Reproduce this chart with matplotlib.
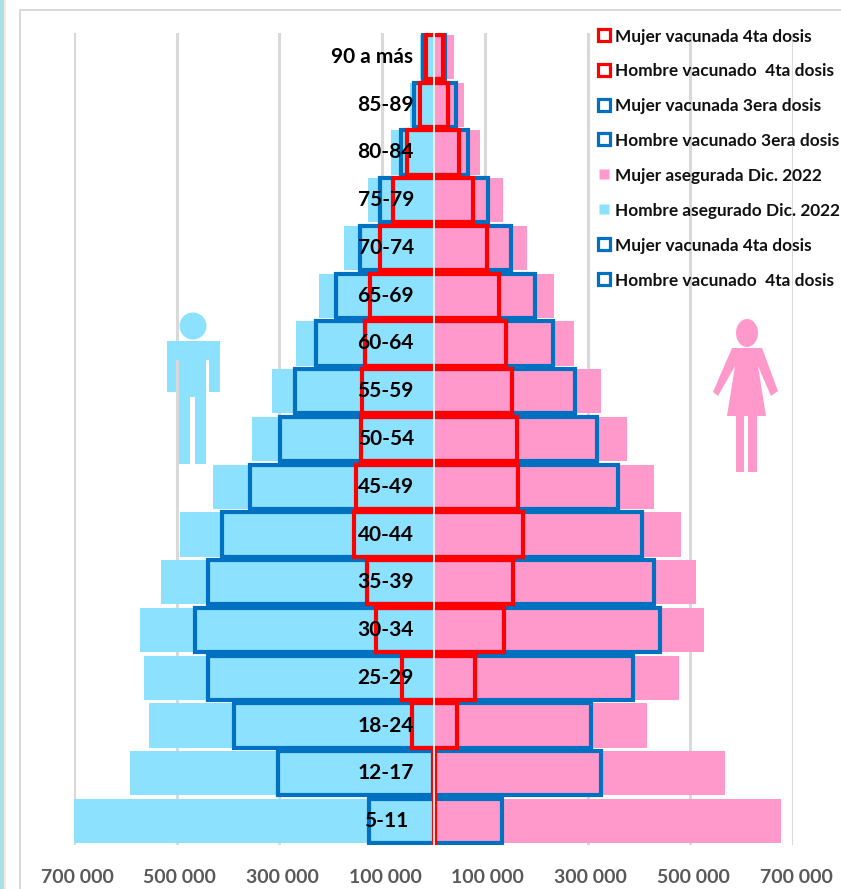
import matplotlib
matplotlib.use("Agg")
import matplotlib.pyplot as plt
from matplotlib.lines import Line2D
from matplotlib.patches import Ellipse, Polygon, Rectangle
from matplotlib.transforms import ScaledTranslation

plt.rcParams['font.family'] = ['Lato', 'DejaVu Sans']

W, H = 841, 889

ages = ['5-11', '12-17', '18-24', '25-29', '30-34', '35-39', '40-44', '45-49', '50-54',
        '55-59', '60-64', '65-69', '70-74', '75-79', '80-84', '85-89', '90 a más']

men_insured = [700000, 591000, 554000, 564000, 572000, 531000, 494000, 430000, 354000,
               315000, 268000, 222000, 175000, 128000, 82000, 45000, 27000]
women_insured = [677000, 568000, 416000, 478000, 527000, 511000, 482000, 430000, 377000,
                 327000, 274000, 235000, 183000, 136000, 91000, 60000, 39000]
men_dose3 = [126000, 303000, 389000, 440000, 465000, 440000, 412000, 358000, 298000,
             270000, 228000, 189000, 144000, 105000, 64000, 37000, 21000]
women_dose3 = [134000, 327000, 307000, 389000, 441000, 430000, 406000, 360000, 319000,
               276000, 233000, 198000, 150000, 107000, 68000, 43000, 23000]
men_dose4 = [0, 1000, 41000, 62000, 111000, 130000, 154000, 150000, 142000,
             140000, 134000, 123000, 105000, 78000, 51000, 27000, 14000]
women_dose4 = [2000, 2000, 45000, 80000, 138000, 154000, 175000, 165000, 163000,
               152000, 142000, 128000, 105000, 76000, 49000, 29000, 19000]

tick_values = [-700000, -500000, -300000, -100000, 100000, 300000, 500000, 700000]
tick_labels = ['700 000', '500 000', '300 000', '100 000', '100 000', '300 000', '500 000', '700 000']

PINK = '#FF99CC'
SKY = '#8CE1FF'
BLUE = '#0070C0'
RED = '#FF0000'
GRID = '#D9D9D9'


def fx(px):
    return px / W


def fy(py):
    return 1 - py / H


fig = plt.figure(figsize=(W / 100, H / 100), dpi=100)

# strip of the slide behind the pasted chart, and the chart frame
fig.add_artist(Rectangle((0, 0), fx(4), 1, transform=fig.transFigure, color='#A8E0E8', lw=0))
fig.add_artist(Rectangle((fx(4), 0), fx(2), 1, transform=fig.transFigure, color='#FBE6DC', lw=0))
fig.add_artist(Rectangle((fx(19), 0), fx(2), fy(9), transform=fig.transFigure, color=GRID, lw=0))
fig.add_artist(Rectangle((fx(19), fy(11)), 1, 2 / H, transform=fig.transFigure, color=GRID, lw=0))

ax = fig.add_axes([fx(74), fy(845), fx(793 - 74), fy(33) - fy(845)])
ax.set_xlim(-700000, 700000)
ax.set_ylim(-0.5, len(ages) - 0.5)
ax.patch.set_alpha(0)
for side in ax.spines.values():
    side.set_visible(False)

ax.set_axisbelow(True)
ax.xaxis.grid(True, color=GRID, lw=2.2)
ax.set_xticks(tick_values)
ax.set_xticklabels(tick_labels)
ax.tick_params(axis='x', length=0, pad=17, labelsize=14, labelcolor='#595959')
nudge = ScaledTranslation(3 / 100, 0, fig.dpi_scale_trans)
for t in ax.get_xticklabels():
    t.set_fontweight('bold')
    t.set_transform(t.get_transform() + nudge)
ax.set_yticks([])

y = list(range(len(ages)))
bar_h = 0.925

ax.barh(y, [-v for v in men_insured], height=bar_h, color=SKY, lw=0, zorder=2)
ax.barh(y, women_insured, height=bar_h, color=PINK, lw=0, zorder=2)

# each dose is one outline running from the men's end to the women's end
ax.barh(y, [m + w for m, w in zip(men_dose3, women_dose3)], left=[-m for m in men_dose3],
        height=bar_h, facecolor='none', edgecolor=BLUE, lw=3, zorder=3)
ax.barh(y, [m + w for m, w in zip(men_dose4, women_dose4)], left=[-m for m in men_dose4],
        height=bar_h, facecolor='none', edgecolor=RED, lw=3, zorder=4)
ax.axvline(0, color='#EDEDED', lw=1.4, zorder=4.5)

for i, age in enumerate(ages):
    xpos = -120000 if age == '90 a más' else -93000
    ax.text(xpos, i, age, ha='center', va='center', fontsize=15, fontweight='bold', color='black', zorder=5)


def outline_key(color, label):
    return Line2D([], [], ls='none', marker='s', markersize=8.2, markerfacecolor='white',
                  markeredgecolor=color, markeredgewidth=2.3, label=label)


def solid_key(color, label):
    return Line2D([], [], ls='none', marker='s', markersize=7.2, markerfacecolor=color,
                  markeredgecolor='none', label=label)


legend_items = [
    outline_key(RED, 'Mujer vacunada 4ta dosis'),
    outline_key(RED, 'Hombre vacunado  4ta dosis'),
    outline_key(BLUE, 'Mujer vacunada 3era dosis'),
    outline_key(BLUE, 'Hombre vacunado 3era dosis'),
    solid_key(PINK, 'Mujer asegurada Dic. 2022'),
    solid_key(SKY, 'Hombre asegurado Dic. 2022'),
    outline_key(BLUE, 'Mujer vacunada 4ta dosis'),
    outline_key(BLUE, 'Hombre vacunado  4ta dosis'),
]
leg = fig.legend(handles=legend_items, loc='upper left', bbox_to_anchor=(fx(595), fy(28)),
                 frameon=False, fontsize=12.4, handlelength=1.0, handleheight=1.0,
                 handletextpad=0.15, labelspacing=1.06, borderpad=0, borderaxespad=0)
for t in leg.get_texts():
    t.set_fontweight('bold')
    t.set_color('#111111')


def figure_poly(points, color):
    pts = [(fx(a), fy(b)) for a, b in points]
    fig.add_artist(Polygon(pts, closed=True, transform=fig.transFigure, color=color, lw=0))


# man
fig.add_artist(Ellipse((fx(193), fy(326)), fx(27), 27 / H, transform=fig.transFigure, color=SKY, lw=0))
figure_poly([(167, 341), (220, 341), (220, 392), (209, 392), (209, 360), (206, 360), (206, 464),
             (195, 464), (195, 397), (190, 397), (190, 464), (179, 464), (179, 360), (176, 360),
             (176, 392), (167, 392)], SKY)

# woman
fig.add_artist(Ellipse((fx(747), fy(333)), fx(22), 28 / H, transform=fig.transFigure, color=PINK, lw=0))
figure_poly([(732, 348), (762, 348), (778, 391), (771, 396), (758, 366), (766, 416), (757, 416),
             (757, 472), (748, 472), (748, 416), (744, 416), (744, 472), (736, 472), (736, 416),
             (727, 416), (735, 366), (718, 396), (713, 392)], PINK)

fig.savefig('out.png', dpi=100)
